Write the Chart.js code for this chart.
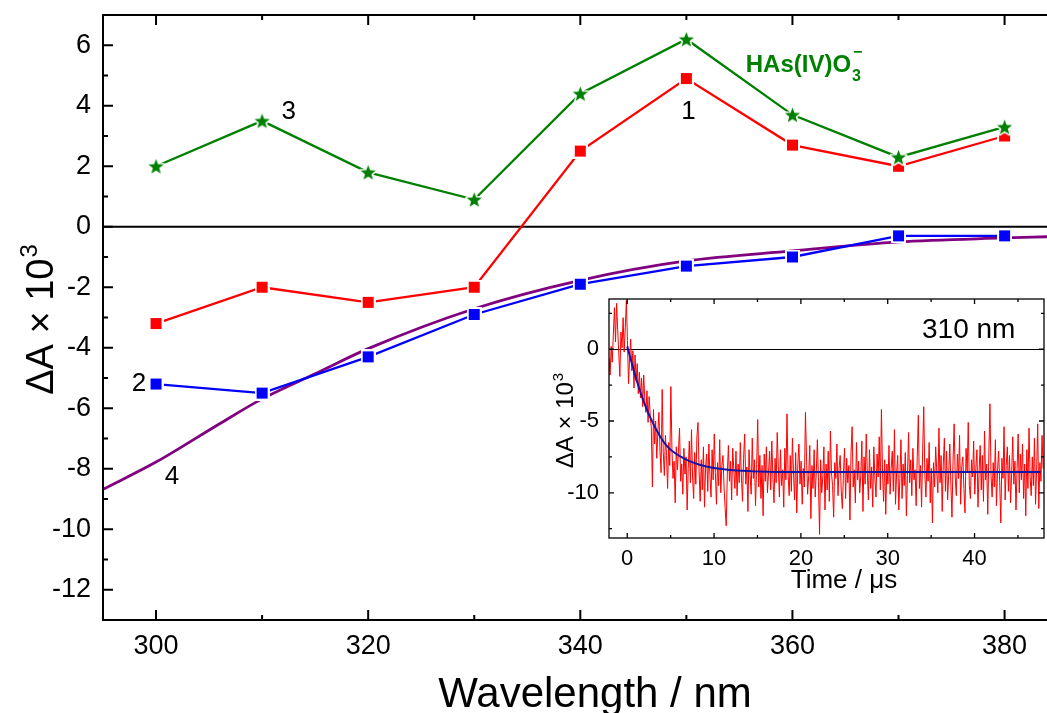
<!DOCTYPE html>
<html>
<head>
<meta charset="utf-8">
<title>Transient spectra</title>
<script src="https://cdn.jsdelivr.net/npm/chart.js@4.4.1/dist/chart.umd.min.js"></script>
<style>
  html, body { margin: 0; padding: 0; background: #fff; overflow: hidden; }
  #wrap { position: relative; width: 1047px; height: 713px; }
  #mainChart { position: absolute; left: 0; top: 0; }
  #insetChart { position: absolute; left: 540px; top: 285px; }
</style>
</head>
<body>
<div id="wrap">
  <canvas id="mainChart" width="1047" height="713"></canvas>
  <canvas id="insetChart" width="507" height="310"></canvas>
</div>
<script>
var FONT = '"Liberation Sans", Arial, sans-serif';

// transient spectra, dA x 10^3
var wavelength = [300, 310, 320, 330, 340, 350, 360, 370, 380];
var deltaA1 = [-3.2, -2.0, -2.5, -2.0, 2.5, 4.9, 2.7, 2.0, 3.0];
var deltaA2 = [-5.2, -5.5, -4.3, -2.9, -1.9, -1.3, -1.0, -0.3, -0.3];
var deltaA3 = [2.0, 3.5, 1.8, 0.9, 4.4, 6.2, 3.7, 2.3, 3.3];

// reference spectrum (4)
var refWavelength = [295, 300, 306, 310, 315, 320, 330, 340, 350, 360, 370, 380, 384];
var refDeltaA = [-8.68, -7.78, -6.51, -5.69, -4.86, -4.03, -2.71, -1.77, -1.13, -0.80, -0.50, -0.37, -0.33];

var xMajor = [300, 320, 340, 360, 380];
var xMinor = [310, 330, 350, 370];
var yMajor = [-12, -10, -8, -6, -4, -2, 0, 2, 4, 6];
var yMinor = [-11, -9, -7, -5, -3, -1, 1, 3, 5];

// kinetic trace at 310 nm (time in us)
var traceStart = -2.1;
var traceStep = 0.125;
var trace310 = [
  -0.6, -1.8, 0.2, -0.9, 1.0, 2.9, 0.5, 3.2, 1.4, -0.3,
  -1.9, 1.2, 0.1, 2.2, -0.2, 1.5, 3.4, 0.6, -2.4, -0.6,
  0.7, -1.5, -0.1, -2.7, -0.4, -2.2, -1.0, -3.1, -1.6, -3.4,
  -2.0, -4.0, -1.8, -3.6, -4.4, -2.9, -5.1, -3.3, -4.6, -5.5,
  -9.6, -4.2, -6.6, -5.0, -7.6, -5.8, -4.4, -7.1, -8.6, -2.8,
  -7.2, -8.8, -6.0, -7.4, -9.7, -6.5, -8.1, -2.6, -7.0, -9.0,
  -7.8, -10.7, -6.8, -8.4, -7.1, -5.5, -9.2, -8.0, -10.1, -6.9,
  -8.7, -7.5, -11.2, -8.3, -6.4, -9.3, -5.6, -8.9, -10.4, -7.2,
  -9.4, -6.1, -5.1, -8.5, -10.6, -7.7, -9.8, -6.8, -11.0, -8.2,
  -7.3, -9.9, -6.6, -8.8, -10.3, -7.0, -9.1, -5.9, -8.6, -10.8,
  -7.9, -9.5, -6.3, -10.0, -8.1, -7.4, -9.6, -11.1, -12.3, -8.7,
  -6.7, -9.2, -7.8, -10.5, -6.9, -8.4, -9.7, -7.1, -10.2, -8.0,
  -9.3, -6.5, -8.9, -10.6, -7.6, -5.9, -9.4, -8.2, -11.3, -7.0,
  -8.8, -10.1, -6.2, -9.0, -7.7, -10.9, -8.3, -4.9, -9.6, -7.4,
  -10.4, -8.1, -11.6, -7.3, -9.2, -6.8, -10.0, -8.6, -7.1, -9.8,
  -6.4, -8.9, -10.7, -7.6, -9.3, -5.8, -8.2, -10.3, -7.0, -9.5,
  -8.4, -11.0, -6.9, -9.1, -4.5, -8.7, -10.2, -7.4, -9.9, -6.2,
  -8.6, -10.5, -7.2, -11.4, -8.0, -6.6, -9.4, -7.8, -10.8, -8.3,
  -9.6, -4.4, -7.5, -10.1, -8.8, -6.7, -11.8, -8.1, -9.7, -7.0,
  -10.3, -8.5, -6.3, -9.2, -12.9, -7.7, -10.0, -8.9, -6.8, -11.2,
  -8.0, -9.8, -7.1, -10.6, -5.7, -8.6, -9.5, -11.7, -7.9, -9.0,
  -6.6, -10.2, -8.3, -7.4, -9.9, -11.1, -8.7, -6.9, -10.4, -7.6,
  -9.3, -8.1, -11.9, -7.2, -5.4, -9.6, -8.4, -10.7, -6.5, -9.1,
  -7.8, -10.0, -8.8, -6.4, -11.3, -7.5, -9.4, -5.9, -8.6, -10.5,
  -7.0, -9.7, -8.2, -11.0, -6.8, -9.0, -10.3, -7.3, -8.9, -6.1,
  -9.8, -4.2, -8.5, -10.6, -7.7, -11.5, -8.0, -9.4, -6.7, -10.1,
  -8.3, -7.1, -9.9, -5.6, -10.8, -8.6, -7.4, -11.2, -9.0, -6.3,
  -10.4, -8.0, -9.5, -7.2, -11.6, -8.8, -5.8, -9.3, -7.7, -10.2,
  -6.9, -9.1, -8.4, -10.9, -7.5, -4.6, -9.7, -8.1, -11.0, -7.0,
  -4.0, -8.7, -10.3, -7.6, -9.2, -6.5, -10.7, -8.3, -12.1, -7.9,
  -9.6, -6.8, -8.5, -10.0, -5.5, -9.3, -7.4, -11.3, -8.0, -6.2,
  -9.9, -7.1, -10.5, -8.7, -6.6, -9.4, -11.7, -7.8, -5.2, -8.9,
  -10.2, -7.3, -9.0, -6.0, -10.8, -8.2, -7.5, -9.7, -11.4, -6.9,
  -8.6, -5.1, -9.5, -10.4, -7.7, -8.9, -6.4, -10.1, -8.3, -7.0,
  -11.0, -8.5, -6.7, -9.8, -7.4, -10.6, -5.7, -9.1, -8.0, -11.5,
  -7.2, -3.8, -8.8, -10.3, -7.9, -9.6, -6.3, -10.9, -8.4, -7.1,
  -9.3, -12.1, -7.6, -9.0, -5.4, -10.5, -8.1, -6.8, -9.9, -7.4,
  -10.7, -8.6, -6.1, -9.4, -7.8, -11.2, -8.3, -5.9, -10.0, -7.3,
  -9.1, -6.6, -10.4, -8.0, -11.6, -7.0, -9.7, -5.5, -8.9, -10.2,
  -7.5, -9.5, -6.2, -10.8, -8.4, -5.2, -11.1, -7.9, -9.2, -6.0,
  -8.3
];
var fitTime = [0, 1, 2, 3, 4.5, 6.5, 9, 12, 15, 20, 30, 47.6];
var fitDeltaA = [0.2, -2.0, -3.8, -5.2, -6.7, -7.6, -8.15, -8.42, -8.52, -8.56, -8.56, -8.56];

var tMajor = [0, 10, 20, 30, 40];
var tMinor = [5, 15, 25, 35, 45];
var dMajor = [0, -5, -10];
var dMinor = [2.5, -2.5, -7.5, -12.5];

function to_points(xs, ys) {
  return ys.map(function (v, i) { return { x: xs[i], y: v }; });
}

function make_square(color, side, ring) {
  var s = side + ring * 2;
  var c = document.createElement('canvas');
  c.width = s; c.height = s;
  var g = c.getContext('2d');
  g.fillStyle = '#fff';
  g.fillRect(0, 0, s, s);
  g.fillStyle = color;
  g.fillRect(ring, ring, side, side);
  return c;
}

function make_star(color, r, ring) {
  var s = Math.ceil(r * 2 + ring * 2 + 2);
  var c = document.createElement('canvas');
  c.width = s; c.height = s;
  var g = c.getContext('2d');
  var cx = s / 2, cy = s / 2 + r * 0.1;
  g.beginPath();
  for (var i = 0; i < 10; i++) {
    var rr = i % 2 === 0 ? r : r * 0.42;
    var ang = -Math.PI / 2 + i * Math.PI / 5;
    var px = cx + rr * Math.cos(ang), py = cy + rr * Math.sin(ang);
    if (i === 0) g.moveTo(px, py); else g.lineTo(px, py);
  }
  g.closePath();
  g.lineJoin = 'round';
  g.strokeStyle = '#fff';
  g.lineWidth = ring * 2;
  g.stroke();
  g.fillStyle = color;
  g.fill();
  return c;
}

// inward ticks on bottom/top and left (and right when mirrored)
function draw_ticks(chart, xs, ys, len, right) {
  var ctx = chart.ctx, a = chart.chartArea;
  var sx = chart.scales.x, sy = chart.scales.y;
  ctx.beginPath();
  xs.forEach(function (v) {
    var px = sx.getPixelForValue(v);
    ctx.moveTo(px, a.bottom); ctx.lineTo(px, a.bottom - len);
    ctx.moveTo(px, a.top); ctx.lineTo(px, a.top + len);
  });
  ys.forEach(function (v) {
    var py = sy.getPixelForValue(v);
    ctx.moveTo(a.left, py); ctx.lineTo(a.left + len, py);
    if (right) { ctx.moveTo(a.right, py); ctx.lineTo(a.right - len, py); }
  });
  ctx.stroke();
}

// rotated "dA x 10^3" title, x is the baseline, y the centre
function draw_y_title(ctx, x, y, size) {
  var base = '\u0394A \u00d7 10';
  var supSize = Math.round(size * 0.62);
  ctx.save();
  ctx.font = size + 'px ' + FONT;
  var w1 = ctx.measureText(base).width;
  ctx.font = supSize + 'px ' + FONT;
  var w2 = ctx.measureText('3').width;
  ctx.translate(x, y);
  ctx.rotate(-Math.PI / 2);
  ctx.fillStyle = '#000';
  ctx.textAlign = 'left';
  ctx.textBaseline = 'alphabetic';
  var start = -(w1 + w2) / 2;
  ctx.font = size + 'px ' + FONT;
  ctx.fillText(base, start, 0);
  ctx.font = supSize + 'px ' + FONT;
  ctx.fillText('3', start + w1 + 1, -size * 0.42);
  ctx.restore();
}

var notes = [
  { text: '1', x: 350.2, y: 3.8 },
  { text: '2', x: 298.4, y: -5.19 },
  { text: '3', x: 312.5, y: 3.8 },
  { text: '4', x: 301.5, y: -8.26 }
];

var mainFrame = {
  id: 'mainFrame',
  beforeDatasetsDraw: function (chart) {
    var ctx = chart.ctx, a = chart.chartArea;
    var y0 = chart.scales.y.getPixelForValue(0);
    ctx.save();
    ctx.strokeStyle = '#000';
    ctx.lineWidth = 2;
    ctx.beginPath();
    ctx.moveTo(a.left, y0); ctx.lineTo(a.right, y0);
    ctx.stroke();
    ctx.restore();
  },
  afterDraw: function (chart) {
    var ctx = chart.ctx, a = chart.chartArea;
    var sx = chart.scales.x, sy = chart.scales.y;
    ctx.save();
    ctx.strokeStyle = '#000';
    ctx.lineWidth = 2;
    ctx.beginPath();
    ctx.moveTo(a.right + 2, a.top); ctx.lineTo(a.left, a.top);
    ctx.lineTo(a.left, a.bottom); ctx.lineTo(a.right + 2, a.bottom);
    ctx.stroke();
    draw_ticks(chart, xMajor, yMajor, 10, false);
    draw_ticks(chart, xMinor, yMinor, 5, false);

    // curve numbers
    ctx.fillStyle = '#000';
    ctx.font = '26px ' + FONT;
    ctx.textAlign = 'center';
    ctx.textBaseline = 'middle';
    notes.forEach(function (n) {
      ctx.fillText(n.text, sx.getPixelForValue(n.x), sy.getPixelForValue(n.y));
    });

    // species label
    var lx = sx.getPixelForValue(355.6), ly = sy.getPixelForValue(5.12);
    ctx.fillStyle = '#008000';
    ctx.textAlign = 'left';
    ctx.textBaseline = 'alphabetic';
    ctx.font = 'bold 24px ' + FONT;
    ctx.fillText('HAs(IV)O', lx, ly);
    var w = ctx.measureText('HAs(IV)O').width;
    ctx.font = 'bold 16px ' + FONT;
    ctx.fillText('3', lx + w + 1, ly + 9);
    ctx.fillText('\u2212', lx + w + 2, ly - 15);

    // axis titles
    ctx.fillStyle = '#000';
    ctx.font = '42px ' + FONT;
    ctx.textAlign = 'center';
    ctx.fillText('Wavelength / nm', 595, 707);
    draw_y_title(ctx, 53, 320, 38);
    ctx.restore();
  }
};

var insetFrame = {
  id: 'insetFrame',
  beforeDraw: function (chart) {
    var ctx = chart.ctx, a = chart.chartArea;
    ctx.save();
    ctx.fillStyle = '#fff';
    ctx.fillRect(a.left, a.top, a.right - a.left, a.bottom - a.top);
    ctx.restore();
  },
  beforeDatasetsDraw: function (chart) {
    var ctx = chart.ctx, a = chart.chartArea;
    var y0 = chart.scales.y.getPixelForValue(0);
    ctx.save();
    ctx.strokeStyle = '#000';
    ctx.lineWidth = 1;
    ctx.beginPath();
    ctx.moveTo(a.left, Math.round(y0) + 0.5); ctx.lineTo(a.right, Math.round(y0) + 0.5);
    ctx.stroke();
    ctx.restore();
  },
  afterDraw: function (chart) {
    var ctx = chart.ctx, a = chart.chartArea;
    ctx.save();
    ctx.strokeStyle = '#000';
    ctx.lineWidth = 1.3;
    ctx.strokeRect(a.left, a.top, a.right - a.left, a.bottom - a.top);
    draw_ticks(chart, tMajor, dMajor, 5, true);
    draw_ticks(chart, tMinor, dMinor, 3, true);
    ctx.fillStyle = '#000';
    ctx.font = '28px ' + FONT;
    ctx.textAlign = 'left';
    ctx.textBaseline = 'alphabetic';
    ctx.fillText('310 nm', 382, 53);
    ctx.font = '26px ' + FONT;
    ctx.textAlign = 'center';
    ctx.fillText('Time / \u03bcs', 304, 303);
    draw_y_title(ctx, 33, 136, 24);
    ctx.restore();
  }
};

function axis_ticks(values) {
  return function (scale) {
    scale.ticks = values.map(function (v) { return { value: v }; });
  };
}

// fixed axis box size, no extra padding for edge labels
function fix_x(height) {
  return function (scale) {
    scale.height = height;
    scale.paddingLeft = 0;
    scale.paddingRight = 0;
  };
}

function fix_y(width) {
  return function (scale) {
    scale.width = width;
    scale.paddingTop = 0;
    scale.paddingBottom = 0;
  };
}

function tick_font(size) {
  return { font: { family: FONT, size: size }, color: '#000' };
}

var squareRed = make_square('#ff0000', 11, 2);
var squareBlue = make_square('#0000ff', 11, 2);
var starGreen = make_star('#008000', 8, 1.5);

new Chart(document.getElementById('mainChart'), {
  type: 'line',
  data: {
    datasets: [
      {
        label: '3', data: to_points(wavelength, deltaA3), order: 1,
        borderColor: '#008000', borderWidth: 2.3, pointStyle: starGreen, pointRadius: 8
      },
      {
        label: '1', data: to_points(wavelength, deltaA1), order: 2,
        borderColor: '#ff0000', borderWidth: 2.3, pointStyle: squareRed, pointRadius: 8
      },
      {
        label: '2', data: to_points(wavelength, deltaA2), order: 3,
        borderColor: '#0000ff', borderWidth: 2.3, pointStyle: squareBlue, pointRadius: 8
      },
      {
        label: '4', data: to_points(refWavelength, refDeltaA), order: 4,
        borderColor: '#800080', borderWidth: 2.8, pointRadius: 0,
        cubicInterpolationMode: 'monotone'
      }
    ]
  },
  options: {
    responsive: false,
    animation: false,
    events: [],
    layout: { autoPadding: false, padding: { top: 15, left: 0, right: 0, bottom: 0 } },
    plugins: { legend: { display: false }, tooltip: { enabled: false } },
    scales: {
      x: {
        type: 'linear', min: 295, max: 384,
        afterBuildTicks: axis_ticks(xMajor),
        afterFit: fix_x(93),
        grid: { display: false }, border: { display: false },
        ticks: Object.assign(tick_font(27), { padding: 2, maxRotation: 0, callback: function (v) { return String(v); } })
      },
      y: {
        type: 'linear', min: -13, max: 7,
        afterBuildTicks: axis_ticks(yMajor),
        afterFit: fix_y(103),
        grid: { display: false }, border: { display: false },
        ticks: Object.assign(tick_font(27), { padding: 4, callback: function (v) { return String(v); } })
      }
    }
  },
  plugins: [mainFrame]
});

var traceTime = trace310.map(function (v, i) { return traceStart + i * traceStep; });

new Chart(document.getElementById('insetChart'), {
  type: 'line',
  data: {
    datasets: [
      {
        label: 'fit', data: to_points(fitTime, fitDeltaA), order: 1,
        borderColor: '#1414a8', borderWidth: 2, pointRadius: 0,
        cubicInterpolationMode: 'monotone'
      },
      {
        label: '310 nm', data: to_points(traceTime, trace310), order: 2,
        borderColor: '#ff0000', borderWidth: 1, pointRadius: 0
      }
    ]
  },
  options: {
    responsive: false,
    animation: false,
    events: [],
    layout: { autoPadding: false, padding: { top: 14, left: 0, right: 3, bottom: 0 } },
    plugins: { legend: { display: false }, tooltip: { enabled: false } },
    scales: {
      x: {
        type: 'linear', min: -2.1, max: 48,
        afterBuildTicks: axis_ticks(tMajor),
        afterFit: fix_x(57),
        grid: { display: false }, border: { display: false },
        ticks: Object.assign(tick_font(22), { padding: 0, maxRotation: 0, callback: function (v) { return String(v); } })
      },
      y: {
        type: 'linear', min: -13.15, max: 3.5,
        afterBuildTicks: axis_ticks(dMajor),
        afterFit: fix_y(69),
        grid: { display: false }, border: { display: false },
        ticks: Object.assign(tick_font(22), { padding: 2, callback: function (v) { return String(v); } })
      }
    }
  },
  plugins: [insetFrame]
});
</script>
</body>
</html>
